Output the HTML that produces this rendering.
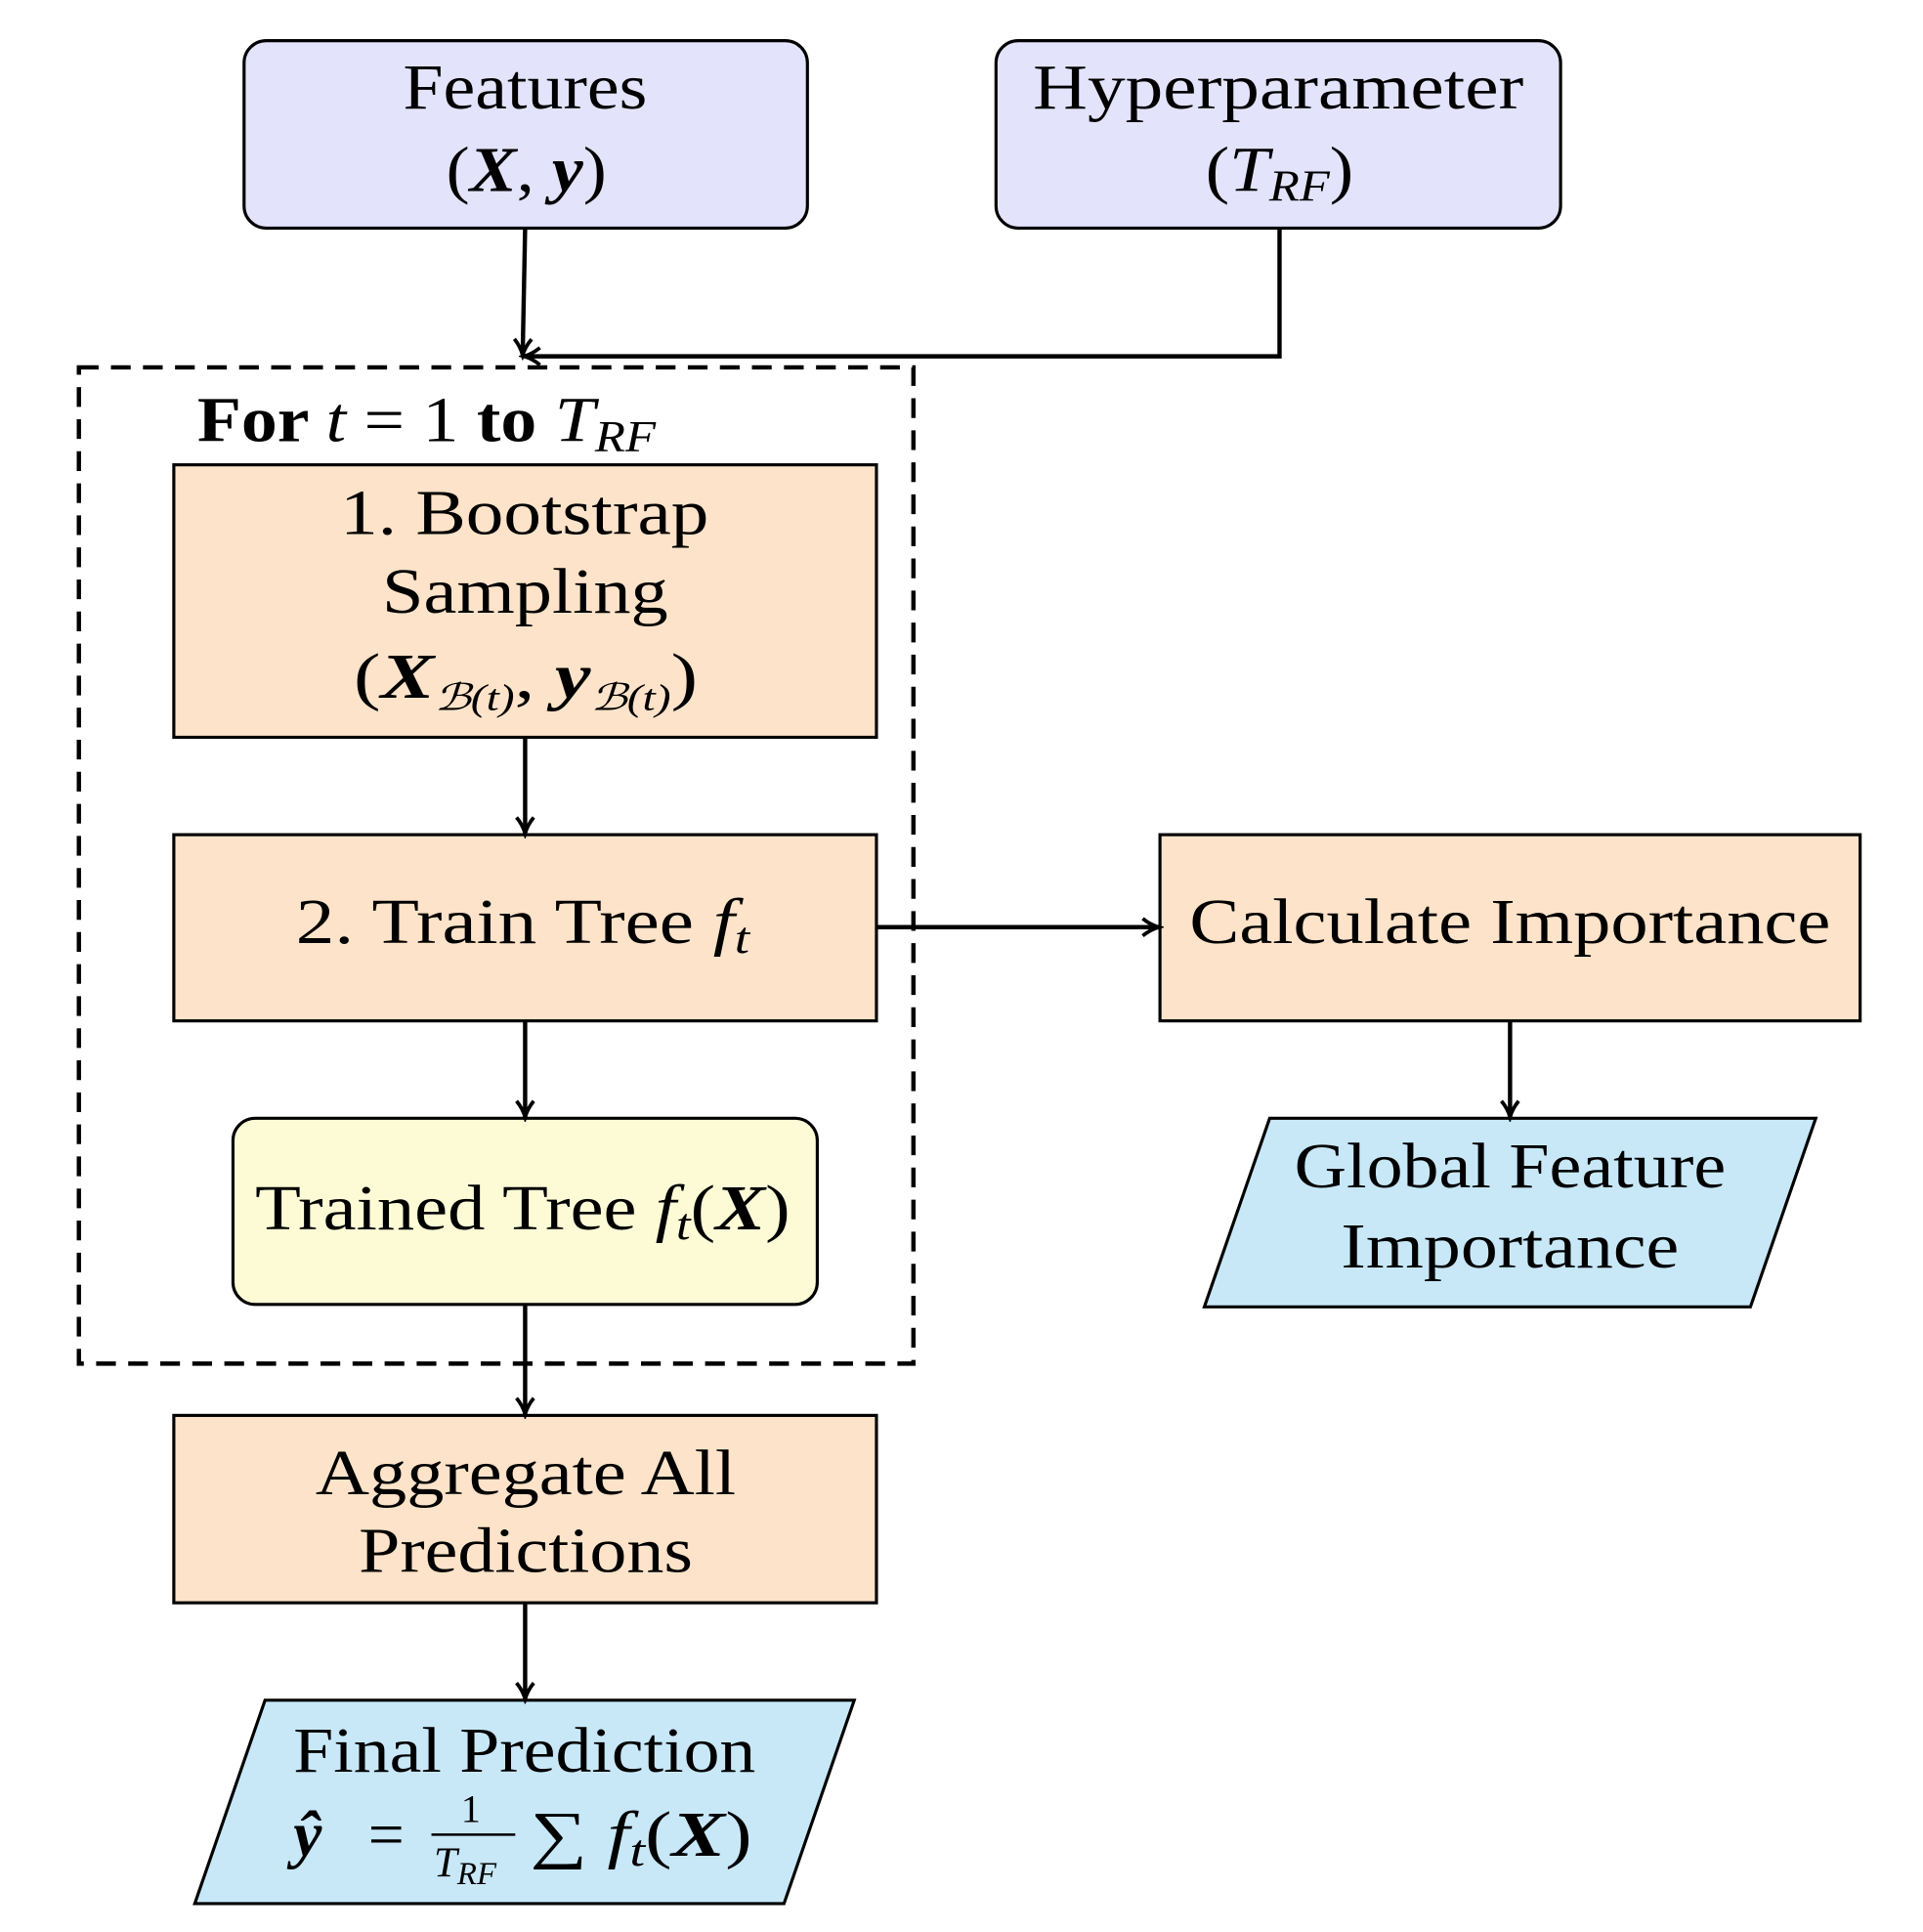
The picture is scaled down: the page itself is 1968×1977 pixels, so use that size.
<!DOCTYPE html>
<html><head><meta charset="utf-8"><style>
html,body{margin:0;padding:0;background:#fff;}
svg{display:block;}
text{font-family:"Liberation Serif",serif;fill:#000;}
.i{font-style:italic;}
.b{font-weight:bold;}
</style></head><body>
<svg width="1968" height="1977" viewBox="0 0 1560 1567" preserveAspectRatio="none" xmlns="http://www.w3.org/2000/svg">
<defs><marker id="a" markerWidth="18" markerHeight="18" refX="14" refY="8" orient="auto" markerUnits="userSpaceOnUse"><path d="M1,1 Q7,6 14,8 Q7,10 1,15" fill="none" stroke="#000" stroke-width="3"/></marker></defs>
<g stroke="#000" stroke-width="2.5">
<rect x="198" y="33" width="457" height="152" rx="18" fill="#e3e3fb"/>
<rect x="808" y="33" width="458" height="152" rx="18" fill="#e3e3fb"/>
<rect x="64" y="298" width="677" height="808" fill="none" stroke-width="3.5" stroke-dasharray="16,10"/>
<rect x="141" y="377" width="570" height="221" fill="#fde3c9"/>
<rect x="141" y="677" width="570" height="151" fill="#fde3c9"/>
<rect x="941" y="677" width="568" height="151" fill="#fde3c9"/>
<rect x="189" y="907" width="474" height="151" rx="18" fill="#fdfbd6"/>
<rect x="141" y="1148" width="570" height="152" fill="#fde3c9"/>
<polygon points="1030,907 1473,907 1420,1060 977,1060" fill="#c8e8f8"/>
<polygon points="215,1379 693,1379 636,1544 158,1544" fill="#c8e8f8"/>
<g fill="none" stroke-width="3.5" marker-end="url(#a)">
<path d="M426,185 L424,288"/>
<path d="M1038,185 L1038,289 L425,289"/>
<path d="M426,598 L426,676"/>
<path d="M426,828 L426,906"/>
<path d="M711,752 L940,752"/>
<path d="M1225,828 L1225,906"/>
<path d="M426,1058 L426,1147"/>
<path d="M426,1300 L426,1378"/>
</g>
</g>
<g style="font-size:52px">
<text x="327" y="88" textLength="198" lengthAdjust="spacingAndGlyphs">Features</text>
<text x="362" y="155" textLength="130" lengthAdjust="spacingAndGlyphs">(<tspan class="i b">X</tspan>, <tspan class="i b">y</tspan>)</text>
<text x="838" y="88" textLength="398" lengthAdjust="spacingAndGlyphs">Hyperparameter</text>
<text x="978" y="155" textLength="120" lengthAdjust="spacingAndGlyphs">(<tspan class="i">T</tspan><tspan class="i" font-size="36" dy="8">RF</tspan><tspan dy="-8">)</tspan></text>
<text x="160" y="358" class="b" textLength="372" lengthAdjust="spacingAndGlyphs">For <tspan class="i" font-weight="normal">t</tspan><tspan font-weight="normal"> = 1 </tspan>to <tspan class="i" font-weight="normal">T</tspan><tspan class="i" font-weight="normal" font-size="36" dy="8">RF</tspan></text>
<text x="276" y="433" textLength="299" lengthAdjust="spacingAndGlyphs">1.  Bootstrap</text>
<text x="310" y="497" textLength="232" lengthAdjust="spacingAndGlyphs">Sampling</text>
<text x="287" y="566" textLength="279" lengthAdjust="spacingAndGlyphs">(<tspan class="i b">X</tspan><tspan class="i" font-size="30" dy="10">ℬ(t)</tspan><tspan dy="-10">, </tspan><tspan class="i b">y</tspan><tspan class="i" font-size="30" dy="10">ℬ(t)</tspan><tspan dy="-10">)</tspan></text>
<text x="240" y="765" textLength="368" lengthAdjust="spacingAndGlyphs">2.  Train  Tree  <tspan class="i">f</tspan><tspan class="i" font-size="36" dy="8">t</tspan></text>
<text x="965" y="765" textLength="520" lengthAdjust="spacingAndGlyphs">Calculate Importance</text>
<text x="1050" y="963" textLength="350" lengthAdjust="spacingAndGlyphs">Global Feature</text>
<text x="1088" y="1028" textLength="274" lengthAdjust="spacingAndGlyphs">Importance</text>
<text x="207" y="997" textLength="434" lengthAdjust="spacingAndGlyphs">Trained Tree <tspan class="i">f</tspan><tspan class="i" font-size="36" dy="8">t</tspan><tspan dy="-8">(</tspan><tspan class="i b">X</tspan>)</text>
<text x="256" y="1212" textLength="341" lengthAdjust="spacingAndGlyphs">Aggregate All</text>
<text x="291" y="1275" textLength="271" lengthAdjust="spacingAndGlyphs">Predictions</text>
<text x="238" y="1437" textLength="375" lengthAdjust="spacingAndGlyphs">Final Prediction</text>
<text x="238" y="1505" textLength="90" lengthAdjust="spacing"><tspan class="i b">ŷ</tspan> = </text>
<text x="430" y="1505" textLength="180" lengthAdjust="spacingAndGlyphs">∑ <tspan class="i">f</tspan><tspan class="i" font-size="36" dy="8">t</tspan><tspan dy="-8">(</tspan><tspan class="i b">X</tspan>)</text>
</g>
<text x="382" y="1478" style="font-size:32px" text-anchor="middle">1</text>
<line x1="350" y1="1488" x2="418" y2="1488" stroke="#000" stroke-width="2"/>
<text x="352" y="1522" style="font-size:34px" class="i">T<tspan font-size="26" dy="6">RF</tspan></text>
</svg>
</body></html>
